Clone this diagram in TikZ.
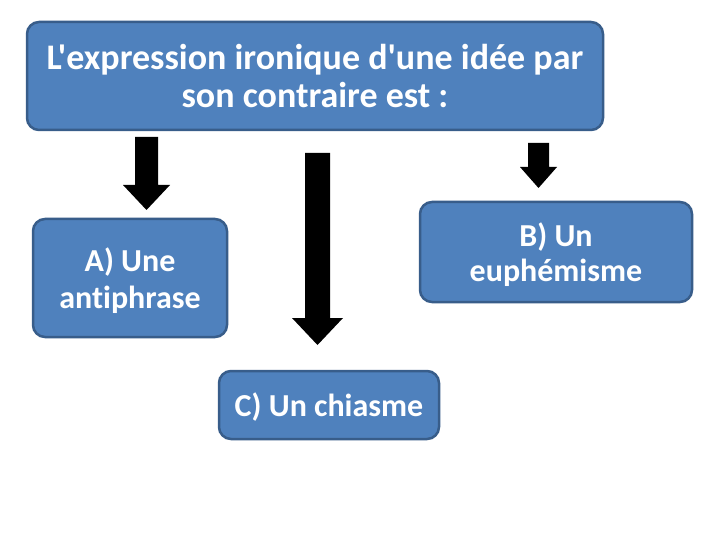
\documentclass[tikz,border=0pt]{standalone}
\usepackage{fontspec}
\setmainfont{Carlito}[Ligatures={TeXOff,NoCommon}]
\definecolor{boxfill}{HTML}{4F81BD}
\definecolor{boxline}{HTML}{385D8A}
\newcommand{\shiftedtext}[2]{\raisebox{#1}[\height][\depth]{\begin{tabular}{@{}c@{}}#2\end{tabular}}}
\begin{document}
\begin{tikzpicture}[x=1pt,y=-1pt,
  bluebox/.style={draw=boxline,line width=2.5pt,fill=boxfill,rounded corners=12pt,
    text=white,font=\bfseries,align=center,inner sep=0pt},
]
\useasboundingbox (0,0) rectangle (720,540);
\fill[white] (0,0) rectangle (720,540);
% boxes
\node[bluebox,minimum width=576pt,minimum height=108pt,font=\bfseries\fontsize{36}{38}\selectfont] (q) at (315,76) {L'expression ironique d'une idée par\\son contraire est :};
\node[bluebox,minimum width=194pt,minimum height=118pt,font=\bfseries\fontsize{32}{37}\selectfont] (a) at (130,278) {\shiftedtext{-5pt}{A) Une\\antiphrase}};
\node[bluebox,minimum width=272pt,minimum height=100pt,font=\bfseries\fontsize{32}{35}\selectfont] (b) at (556,252) {\shiftedtext{-4.5pt}{B) Un\\euphémisme}};
\node[bluebox,minimum width=220pt,minimum height=68pt,font=\bfseries\fontsize{32}{36}\selectfont] (c) at (329,405) {\shiftedtext{-4pt}{C) Un chiasme}};
% block arrows
\fill[black] (135,137) -- (158,137) -- (158,185) -- (170,185) -- (146.5,210) -- (123,185) -- (135,185) -- cycle;
\fill[black] (305,153) -- (330,153) -- (330,318) -- (343,318) -- (317.5,345) -- (292,318) -- (305,318) -- cycle;
\fill[black] (528,143) -- (549,143) -- (549,167) -- (557,167) -- (538.5,188) -- (520,167) -- (528,167) -- cycle;
\end{tikzpicture}
\end{document}
